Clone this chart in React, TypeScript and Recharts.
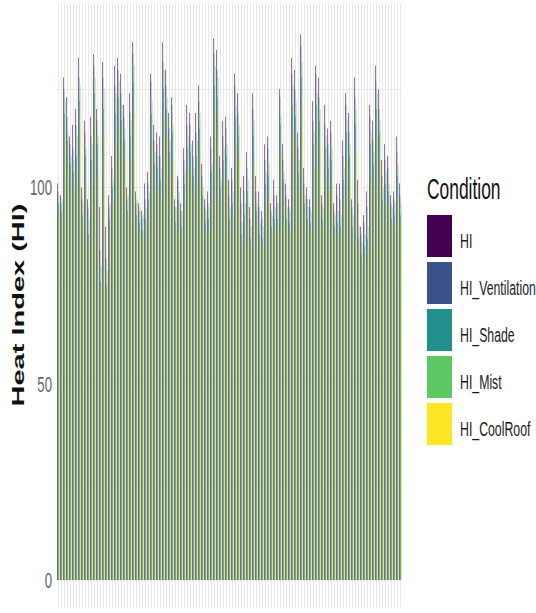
import React from 'react';
import { BarChart, Bar, XAxis, YAxis, CartesianGrid } from 'recharts';

const HI = [
  101, 98, 128, 123, 113, 116, 120, 133, 100, 117,
  97, 118, 134, 120, 95, 132, 90, 98, 108, 131,
  133, 129, 121, 100, 124, 137, 99, 96, 94, 101,
  104, 129, 116, 114, 113, 137, 130, 119, 123, 97,
  103, 96, 110, 121, 119, 112, 119, 126, 106, 97,
  99, 113, 138, 135, 108, 117, 118, 102, 105, 129,
  124, 100, 103, 109, 95, 124, 103, 99, 94, 111,
  113, 96, 102, 98, 125, 111, 101, 97, 133, 130,
  114, 139, 105, 100, 97, 122, 131, 128, 98, 121,
  115, 117, 96, 101, 101, 112, 124, 119, 97, 128,
  102, 90, 93, 99, 121, 117, 131, 125, 107, 111,
  108, 98, 99, 113, 101,
];
const HI_Ventilation = [
  99, 96, 125, 118, 111, 110, 116, 128, 97, 114,
  95, 113, 131, 117, 84, 128, 82, 95, 105, 126,
  130, 124, 118, 97, 119, 134, 96, 94, 92, 97,
  101, 127, 112, 111, 108, 132, 126, 115, 121, 95,
  102, 94, 107, 116, 116, 108, 114, 122, 103, 95,
  96, 110, 134, 130, 105, 113, 115, 98, 102, 126,
  119, 96, 99, 105, 92, 120, 99, 95, 92, 107,
  110, 94, 98, 96, 123, 107, 98, 95, 129, 125,
  110, 136, 101, 97, 95, 117, 129, 123, 96, 116,
  111, 114, 94, 98, 97, 108, 121, 114, 95, 123,
  96, 88, 91, 95, 118, 112, 127, 120, 103, 107,
  105, 96, 97, 109, 98,
];
const HI_Shade = [
  96, 94, 119, 112, 106, 104, 108, 122, 93, 108,
  88, 107, 124, 111, 76, 120, 75, 92, 100, 119,
  123, 117, 112, 94, 113, 127, 93, 91, 89, 92,
  97, 119, 106, 105, 102, 125, 120, 109, 114, 91,
  97, 90, 101, 110, 109, 103, 108, 115, 98, 91,
  92, 104, 126, 123, 100, 107, 108, 92, 96, 118,
  113, 88, 93, 99, 87, 113, 94, 88, 87, 101,
  103, 90, 92, 92, 116, 102, 92, 91, 121, 118,
  104, 128, 96, 92, 91, 111, 121, 117, 92, 110,
  105, 107, 90, 91, 90, 102, 114, 108, 90, 116,
  87, 83, 85, 87, 111, 106, 120, 114, 97, 101,
  99, 92, 93, 103, 93,
];
const HI_Mist = [
  98, 97, 122, 114, 108, 107, 113, 126, 96, 110,
  92, 111, 128, 113, 80, 125, 79, 96, 102, 124,
  127, 121, 115, 98, 117, 131, 97, 95, 93, 95,
  99, 122, 109, 108, 105, 130, 123, 112, 116, 95,
  99, 94, 104, 113, 111, 105, 112, 119, 100, 94,
  95, 106, 131, 128, 102, 110, 111, 95, 99, 121,
  116, 91, 96, 102, 90, 117, 96, 91, 90, 104,
  106, 93, 95, 96, 118, 104, 95, 94, 126, 122,
  107, 132, 98, 95, 94, 114, 124, 120, 95, 113,
  108, 110, 93, 94, 93, 105, 117, 111, 93, 120,
  90, 86, 88, 90, 114, 109, 124, 117, 100, 104,
  101, 95, 96, 106, 96,
];
const HI_CoolRoof = [
  95, 92, 113, 106, 101, 99, 104, 115, 90, 102,
  86, 100, 118, 104, 74, 114, 77, 90, 96, 112,
  116, 110, 106, 92, 107, 120, 91, 89, 87, 90,
  94, 112, 100, 99, 97, 118, 113, 103, 107, 89,
  95, 88, 97, 104, 103, 98, 102, 109, 95, 88,
  89, 98, 119, 117, 96, 101, 102, 89, 93, 111,
  107, 86, 90, 95, 85, 106, 91, 86, 85, 96,
  98, 88, 90, 90, 109, 97, 90, 89, 114, 112,
  99, 121, 93, 90, 89, 105, 114, 110, 90, 104,
  99, 101, 88, 89, 88, 97, 107, 102, 88, 109,
  85, 81, 83, 85, 104, 100, 113, 107, 93, 96,
  95, 90, 91, 98, 91,
];

const conditions = ['HI', 'HI_Ventilation', 'HI_Shade', 'HI_Mist', 'HI_CoolRoof'];
const colors = ['#440154', '#3B528B', '#21908C', '#5DC863', '#FDE725'];
const yTicks = [0, 50, 100];
const gridValues = [0, 25, 50, 75, 100, 125];

const series = [HI, HI_Ventilation, HI_Shade, HI_Mist, HI_CoolRoof];
const data = HI.map((_, i) => {
  const row: Record<string, number> = { obs: i + 1 };
  conditions.forEach((c, k) => {
    row[c] = series[k][i];
  });
  return row;
});

// the source image is squeezed sideways, so text is too
const SQ = 0.6;
const FONT = "'Liberation Sans', Arial, sans-serif";

const YTick = ({ x, y, payload }: any) => (
  <g transform={`translate(${x},${y}) scale(${SQ},1)`}>
    <text textAnchor="end" dy="0.36em" fontSize={22} fill="#666" fontFamily={FONT}>
      {payload.value}
    </text>
  </g>
);

const YTitle = () => (
  <text
    transform={`translate(18,305) scale(${SQ},1) rotate(-90)`}
    textAnchor="middle"
    dy="0.36em"
    fontSize={29}
    fontWeight="bold"
    fill="#111"
    fontFamily={FONT}
  >
    Heat Index (HI)
  </text>
);

export default function App() {
  return (
    <div style={{ position: 'absolute', left: 0, top: 0, width: 536, height: 613, overflow: 'hidden', background: '#fff' }}>
      <BarChart
        width={536}
        height={613}
        data={data}
        margin={{ top: 3, right: 134, bottom: 5.5, left: 0 }}
        barCategoryGap="4%"
        barGap={0}
      >
        <CartesianGrid stroke="#e8e8e8" horizontalValues={gridValues} syncWithTicks />
        <XAxis dataKey="obs" interval={0} height={0} tick={() => null} axisLine={false} tickLine={false} />
        <YAxis
          width={57}
          domain={[-7, 147]}
          ticks={yTicks}
          allowDataOverflow
          axisLine={false}
          tickLine={false}
          tickSize={3}
          tickMargin={2}
          tick={<YTick />}
          label={<YTitle />}
        />
        {conditions.map((c, k) => (
          <Bar key={c} dataKey={c} fill={colors[k]} isAnimationActive={false} />
        ))}
      </BarChart>

      <div style={{ position: 'absolute', left: 427, top: 175, fontFamily: FONT }}>
        <div style={{ fontSize: 29, lineHeight: '29px', color: '#111', transform: `scaleX(${SQ})`, transformOrigin: 'left', whiteSpace: 'nowrap' }}>
          Condition
        </div>
      </div>
      {conditions.map((c, k) => (
        <React.Fragment key={c}>
          <div style={{ position: 'absolute', left: 427, top: 215 + 47 * k, width: 25, height: 42, background: colors[k] }} />
          <div
            style={{
              position: 'absolute',
              left: 460,
              top: 230 + 47 * k,
              fontFamily: FONT,
              fontSize: 20.5,
              lineHeight: '22px',
              color: '#1a1a1a',
              whiteSpace: 'nowrap',
              transform: `scaleX(${SQ})`,
              transformOrigin: 'left',
            }}
          >
            {c}
          </div>
        </React.Fragment>
      ))}
    </div>
  );
}
